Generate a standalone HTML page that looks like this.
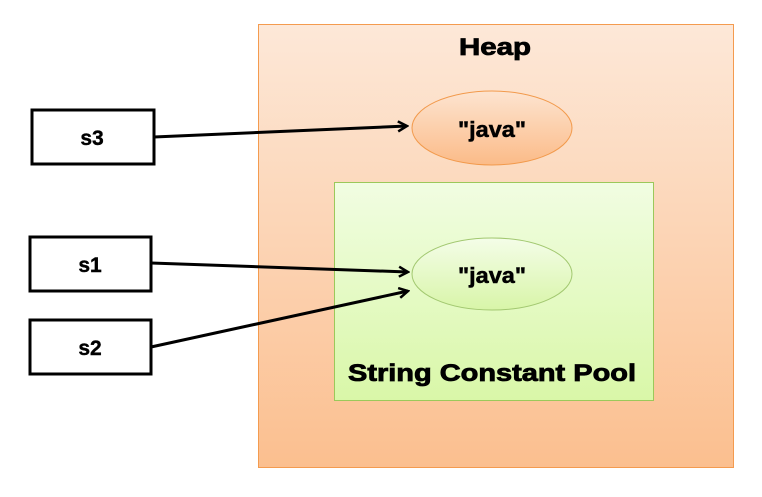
<!DOCTYPE html>
<html><head><style>body{margin:0;background:#fff}</style></head><body>
<svg width="762" height="492" xmlns="http://www.w3.org/2000/svg" font-family="'Liberation Sans',sans-serif" font-weight="bold">
<defs>
<linearGradient id="h" x1="0" y1="0" x2="0" y2="1"><stop offset="0" stop-color="#fde8d8"/><stop offset="1" stop-color="#fbbf8f"/></linearGradient>
<linearGradient id="g" x1="0" y1="0" x2="0" y2="1"><stop offset="0" stop-color="#f1fde2"/><stop offset="1" stop-color="#d9f7a8"/></linearGradient>
<linearGradient id="eo" x1="0" y1="0" x2="0" y2="1"><stop offset="0" stop-color="#fde4d0"/><stop offset="1" stop-color="#fbbb88"/></linearGradient>
<linearGradient id="eg" x1="0" y1="0" x2="0" y2="1"><stop offset="0" stop-color="#f4fde8"/><stop offset="1" stop-color="#d8f5a8"/></linearGradient>
<marker id="a" markerWidth="12" markerHeight="12" refX="10" refY="6" orient="auto" markerUnits="userSpaceOnUse"><path d="M1,1 L10,6 L1,11" fill="none" stroke="#000" stroke-width="2.5"/></marker>
</defs>
<rect x="258.5" y="24.5" width="475" height="443" fill="url(#h)" stroke="#f49b4f"/>
<text x="459" y="55" font-size="24" textLength="72" lengthAdjust="spacingAndGlyphs" stroke="#000" stroke-width="0.8">Heap</text>
<ellipse cx="492" cy="128" rx="80" ry="37" fill="url(#eo)" stroke="#f29a4c"/>
<text x="458" y="137" font-size="22" textLength="68" lengthAdjust="spacingAndGlyphs" stroke="#000" stroke-width="0.5">"java"</text>
<rect x="334.5" y="182.5" width="319" height="218" fill="url(#g)" stroke="#9bc85a"/>
<ellipse cx="492" cy="274" rx="80" ry="36" fill="url(#eg)" stroke="#a2c870"/>
<text x="458" y="283" font-size="22" textLength="68" lengthAdjust="spacingAndGlyphs" stroke="#000" stroke-width="0.5">"java"</text>
<text x="348" y="381" font-size="24" textLength="288" lengthAdjust="spacingAndGlyphs" stroke="#000" stroke-width="0.8">String Constant Pool</text>
<g fill="#fff" stroke="#000" stroke-width="3">
<rect x="32" y="110" width="122" height="54"/>
<rect x="30" y="237" width="121" height="54"/>
<rect x="30" y="320" width="121" height="54"/>
</g>
<g font-size="21" text-anchor="middle" stroke="#000" stroke-width="0.4">
<text x="92" y="145">s3</text><text x="90" y="272">s1</text><text x="90" y="355">s2</text>
</g>
<g stroke="#000" stroke-width="3" marker-end="url(#a)">
<line x1="154" y1="137" x2="407" y2="126"/>
<line x1="151" y1="263" x2="408" y2="272"/>
<line x1="151" y1="347" x2="408" y2="291"/>
</g>
</svg>
</body></html>
